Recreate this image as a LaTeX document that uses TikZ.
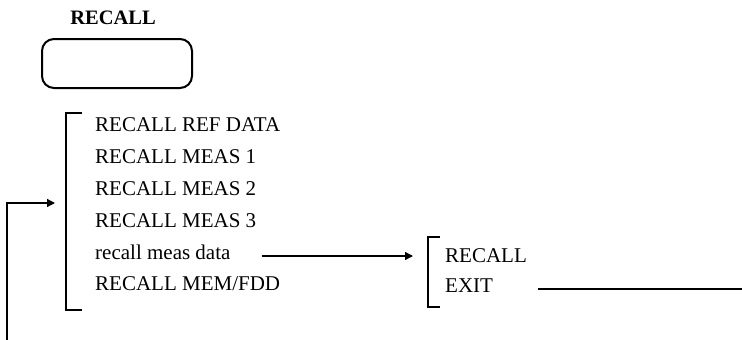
\documentclass[tikz,border=0pt]{standalone}
\usepackage{fontspec}
\setmainfont{Liberation Serif}
\usetikzlibrary{arrows.meta}

\begin{document}
\begin{tikzpicture}[
    x=1pt, y=-1pt,
    item/.style={anchor=base west, inner sep=0pt, font=\fontsize{21}{25}\selectfont},
    title/.style={anchor=base, inner sep=0pt, font=\fontsize{20.5}{24}\selectfont\bfseries},
    key/.style={draw=black, line width=2pt, rounded corners=12pt},
    brace/.style={draw=black, line width=1.1pt},
    wire/.style={draw=black, line width=1.3pt},
    tip/.style={-{Triangle[length=8pt, width=8pt]}},
  ]

  \useasboundingbox (0,0) rectangle (742,340);

  % ---- the key and its caption
  \node[title] (ttl) at (113,24) {RECALL};
  \draw[key] (42,39) rectangle (192,88);

  % ---- menu entries
  \foreach \i/\y/\t in {1/131/{RECALL REF DATA}, 2/163/{RECALL MEAS 1}, 3/195/{RECALL MEAS 2},
                        4/227/{RECALL MEAS 3}, 5/259/{recall meas data}, 6/290/{RECALL MEM/FDD}} {
    \node[item] (m\i) at (95,\y) {\t};
  }

  % ---- bracket round the menu
  \draw[brace] (82,113) -- (66,113) -- (66,310) -- (82,310);

  % ---- way back into the menu
  \coordinate (back) at (7,340);
  \coordinate (menuin) at (55,203);
  \draw[wire, tip] (back) |- (menuin);

  % ---- the sub menu
  \node[item] (s1) at (445,262) {RECALL};
  \node[item] (s2) at (445,292) {EXIT};
  \draw[brace] (440,237) -- (428,237) -- (428,307) -- (440,307);

  \coordinate (subin) at (413,256);
  \draw[wire, tip] ([xshift=31pt]m5.east |- subin) -- (subin);

  % ---- leaving the sub menu
  \coordinate (out) at (742,289);
  \draw[wire] ([xshift=45pt]s2.east |- out) -- (out);

\end{tikzpicture}
\end{document}
